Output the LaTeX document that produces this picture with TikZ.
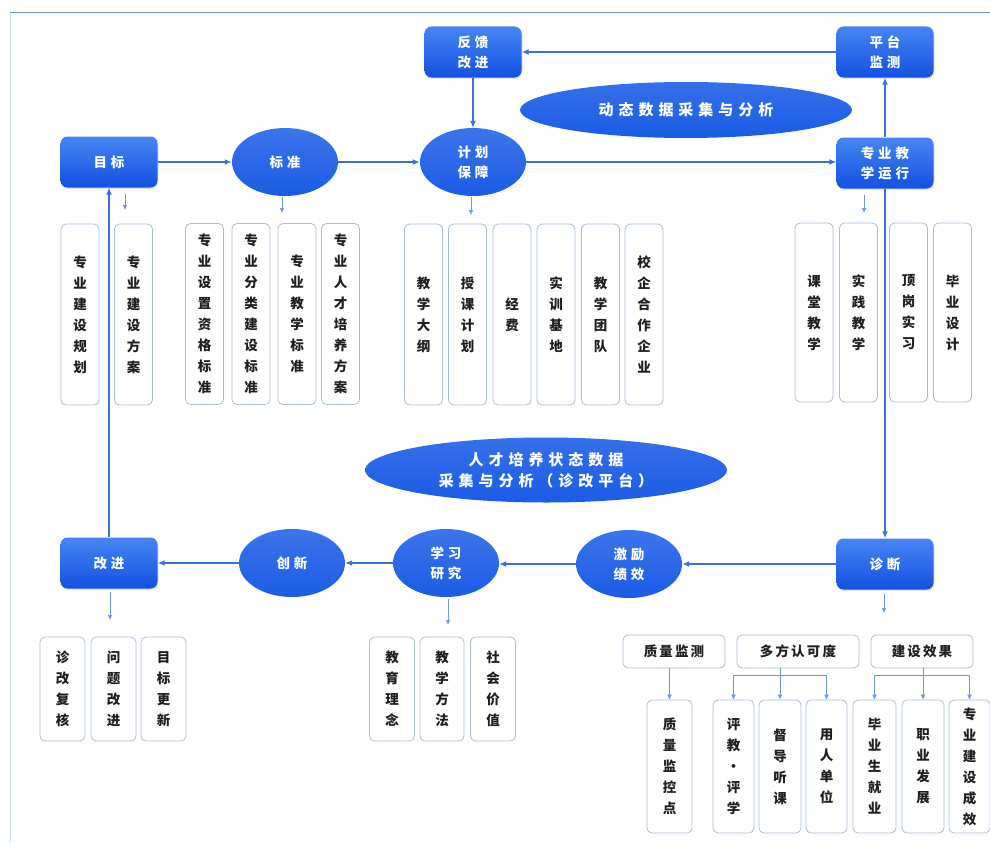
\documentclass[tikz,border=0pt]{standalone}
\usepackage{fontspec}
\setmainfont{Noto Sans CJK SC}
\newfontfamily\spA{Noto Sans CJK SC}[LetterSpace=28]
\newfontfamily\spB{Noto Sans CJK SC}[LetterSpace=33]
\newfontfamily\spC{Noto Sans CJK SC}[LetterSpace=16]
\usetikzlibrary{shapes.geometric,arrows.meta,shadows,calc}
\definecolor{lnblue}{RGB}{58,112,218}
\definecolor{topb}{RGB}{70,134,242}
\definecolor{botb}{RGB}{18,80,226}
\definecolor{ellb}{RGB}{26,92,230}
\definecolor{subbd}{RGB}{168,188,218}
\definecolor{subtx}{RGB}{30,30,35}
\definecolor{frameA}{RGB}{110,150,220}
\definecolor{frameB}{RGB}{200,218,240}
\tikzset{
  bbox/.style={rectangle, rounded corners=7pt, top color=topb, bottom color=botb, draw=none,
    minimum width=97pt, minimum height=51pt, inner sep=2pt, align=center, text=white,
    font=\spA\bfseries\fontsize{13.5}{20}\selectfont,
    drop shadow={opacity=0.22, shadow xshift=1pt, shadow yshift=-1.5pt}},
  sell/.style={ellipse, top color=ellb!85!white, bottom color=ellb, draw=none,
    minimum width=106pt, minimum height=68pt, inner sep=0pt, align=center, text=white,
    font=\spA\bfseries\fontsize{13.5}{20}\selectfont},
  bell/.style={ellipse, top color=ellb!88!white, bottom color=ellb, draw=none,
    inner sep=0pt, align=center, text=white,
    font=\spB\bfseries\fontsize{15}{21}\selectfont},
  vbox/.style={rectangle, rounded corners=5pt, draw=subbd, line width=0.8pt, fill=white,
    minimum width=38pt, inner sep=1pt, align=center, text=subtx,
    font=\bfseries\fontsize{13.5}{21}\selectfont},
  hbox/.style={rectangle, rounded corners=5pt, draw=subbd, line width=0.8pt, fill=white,
    minimum height=33pt, inner sep=1pt, align=center, text=subtx,
    font=\spC\bfseries\fontsize{13.5}{20}\selectfont},
  arr/.style={draw=lnblue, line width=1.4pt, -{Latex[length=7pt,width=6pt]}},
  ln/.style={draw=lnblue, line width=1.4pt},
  sarr/.style={draw=lnblue!75, line width=0.7pt, -{Latex[length=5pt,width=4.5pt]}},
  sln/.style={draw=lnblue!75, line width=0.9pt},
  sarr2/.style={draw=lnblue!75, line width=0.9pt, -{Latex[length=5pt,width=5pt]}},
}
\begin{document}
\begin{tikzpicture}[x=1pt,y=-1pt]
\useasboundingbox (0,0) rectangle (990,843);
\fill[white] (0,0) rectangle (990,843);
% frame
\draw[frameB, line width=1pt] (10,13) -- (10,843);
\draw[frameA, line width=1pt] (10,13) -- (990,13);

% ===== top row main nodes
\node[bbox] (fankui) at (473,52) {反馈\\改进};
\node[bbox] (pingtai) at (885,52) {平台\\监测};
\node[bell, minimum width=332pt, minimum height=56pt] (dongtai) at (686,110) {动态数据采集与分析};
\node[bbox] (mubiao) at (109,162) {目标};
\node[sell] (biaozhun) at (285,162) {标准};
\node[sell] (jihua) at (473,162) {计划\\保障};
\node[bbox] (yunxing) at (885,163) {专业教\\学运行};

% ===== bottom row main nodes
\node[bell, minimum width=362pt, minimum height=65pt] (rencai) at (546,470) {人才培养状态数据\\采集与分析（诊改平台）};
\node[bbox] (gaijin) at (109,563) {改进};
\node[sell] (chuangxin) at (292,563) {创新};
\node[sell] (xuexi) at (446,563) {学习\\研究};
\node[sell] (jili) at (629,564) {激励\\绩效};
\node[bbox] (zhenduan) at (885,564) {诊断};

% ===== main connectors
\draw[arr] (mubiao.east) -- (biaozhun.west);
\draw[arr] (biaozhun.east) -- (jihua.west);
\draw[arr] (jihua.east) -- (jihua.east -| yunxing.west);
\draw[arr] (pingtai.west) -- (fankui.east);
\draw[arr] (fankui.south) -- (jihua.north);
\draw[arr] (yunxing.north) -- (pingtai.south);
\draw[arr] (yunxing.south) -- (zhenduan.north);
\draw[arr] (zhenduan.west) -- (jili.east);
\draw[arr] (jili.west) -- (jili.west -| xuexi.east);
\draw[arr] (xuexi.west) -- (chuangxin.east);
\draw[arr] (chuangxin.west) -- (gaijin.east);
\draw[arr] (gaijin.north) -- (mubiao.south);

% ===== sub boxes: 目标
\node[vbox, minimum height=181pt] (m1) at (80,314.5) {专\\业\\建\\设\\规\\划};
\node[vbox, minimum height=181pt] (m2) at (133.5,314.5) {专\\业\\建\\设\\方\\案};
% 标准
\node[vbox, minimum height=181pt] (b1) at (204.5,314) {专\\业\\设\\置\\资\\格\\标\\准};
\node[vbox, minimum height=181pt] (b2) at (251,314) {专\\业\\分\\类\\建\\设\\标\\准};
\node[vbox, minimum height=181pt] (b3) at (297,314) {专\\业\\教\\学\\标\\准};
\node[vbox, minimum height=181pt] (b4) at (340.5,314) {专\\业\\人\\才\\培\\养\\方\\案};
% 计划保障
\node[vbox, minimum height=181pt] (j1) at (423.5,314.5) {教\\学\\大\\纲};
\node[vbox, minimum height=181pt] (j2) at (467.5,314.5) {授\\课\\计\\划};
\node[vbox, minimum height=181pt] (j3) at (512,314.5) {经\\费};
\node[vbox, minimum height=181pt] (j4) at (556,314.5) {实\\训\\基\\地};
\node[vbox, minimum height=181pt] (j5) at (600.5,314.5) {教\\学\\团\\队};
\node[vbox, minimum height=181pt] (j6) at (644,314.5) {校\\企\\合\\作\\企\\业};
% 专业教学运行
\node[vbox, minimum height=179pt] (y1) at (814,312.5) {课\\堂\\教\\学};
\node[vbox, minimum height=179pt] (y2) at (858.5,312.5) {实\\践\\教\\学};
\node[vbox, minimum height=179pt] (y3) at (908.5,312.5) {顶\\岗\\实\\习};
\node[vbox, minimum height=179pt] (y4) at (952.5,312.5) {毕\\业\\设\\计};
% 改进
\node[vbox, minimum width=45pt, minimum height=104pt] (g1) at (62.5,689) {诊\\改\\复\\核};
\node[vbox, minimum width=45pt, minimum height=104pt] (g2) at (113.5,689) {问\\题\\改\\进};
\node[vbox, minimum width=45pt, minimum height=104pt] (g3) at (163.5,689) {目\\标\\更\\新};
% 学习研究
\node[vbox, minimum width=45pt, minimum height=104pt] (x1) at (392,689) {教\\育\\理\\念};
\node[vbox, minimum width=44pt, minimum height=104pt] (x2) at (442,689) {教\\学\\方\\法};
\node[vbox, minimum width=45pt, minimum height=104pt] (x3) at (493,689) {社\\会\\价\\值};
% 诊断 level 2
\node[hbox, minimum width=102pt] (q) at (674,651.5) {质量监测};
\node[hbox, minimum width=122pt] (dm) at (798,651.5) {多方认可度};
\node[hbox, minimum width=102pt] (js) at (922,651.5) {建设效果};
% 诊断 level 3
\node[vbox, minimum width=45pt, minimum height=133pt] (q1) at (669.5,766.5) {质\\量\\监\\控\\点};
\node[vbox, minimum width=41pt, minimum height=133pt] (d1) at (733.5,766.5) {评\\教\\·\\评\\学};
\node[vbox, minimum width=42pt, minimum height=133pt] (d2) at (780,766.5) {督\\导\\听\\课};
\node[vbox, minimum width=41pt, minimum height=133pt] (d3) at (826.5,766.5) {用\\人\\单\\位};
\node[vbox, minimum width=43pt, minimum height=133pt] (e1) at (874.5,766.5) {毕\\业\\生\\就\\业};
\node[vbox, minimum width=42pt, minimum height=133pt] (e2) at (923,766.5) {职\\业\\发\\展};
\node[vbox, minimum width=41pt, minimum height=133pt] (e3) at (969.5,766.5) {专\\业\\建\\设\\成\\效};

% ===== small arrows toward sub-box groups
\coordinate (tm) at (125,210);
\coordinate (tb) at (282,213);
\coordinate (tj) at (471,215);
\coordinate (ty) at (864,213);
\coordinate (tg) at (110,620);
\coordinate (tx) at (448,625);
\coordinate (tz) at (884,613);
\draw[sarr, shorten <=6pt] (mubiao.south -| tm) -- (tm);
\draw[sarr, shorten <=1pt] (biaozhun.south -| tb) -- (tb);
\draw[sarr, shorten <=1pt] (jihua.south -| tj) -- (tj);
\draw[sarr, shorten <=6pt] (yunxing.south -| ty) -- (ty);
\draw[sarr, shorten <=3pt] (gaijin.south -| tg) -- (tg);
\draw[sarr, shorten <=2pt] (xuexi.south -| tx) -- (tx);
\draw[sarr, shorten <=4pt] (zhenduan.south -| tz) -- (tz);

% ===== diagnosis tree connectors
\draw[sarr2] (q.south -| q1.north) -- (q1.north);
\coordinate (dj) at (798,675);
\draw[sln] (dm.south -| d2.north) -- (dj -| d2.north);
\draw[sln] (dj -| d1.north) -- (dj -| d3.north);
\draw[sarr2] (dj -| d1.north) -- (d1.north);
\draw[sarr2] (dj -| d2.north) -- (d2.north);
\draw[sarr2] (dj -| d3.north) -- (d3.north);
\coordinate (ej) at (922,675);
\draw[sln] (js.south -| e2.north) -- (ej -| e2.north);
\draw[sln] (ej -| e1.north) -- (ej -| e3.north);
\draw[sarr2] (ej -| e1.north) -- (e1.north);
\draw[sarr2] (ej -| e2.north) -- (e2.north);
\draw[sarr2] (ej -| e3.north) -- (e3.north);
\end{tikzpicture}
\end{document}
